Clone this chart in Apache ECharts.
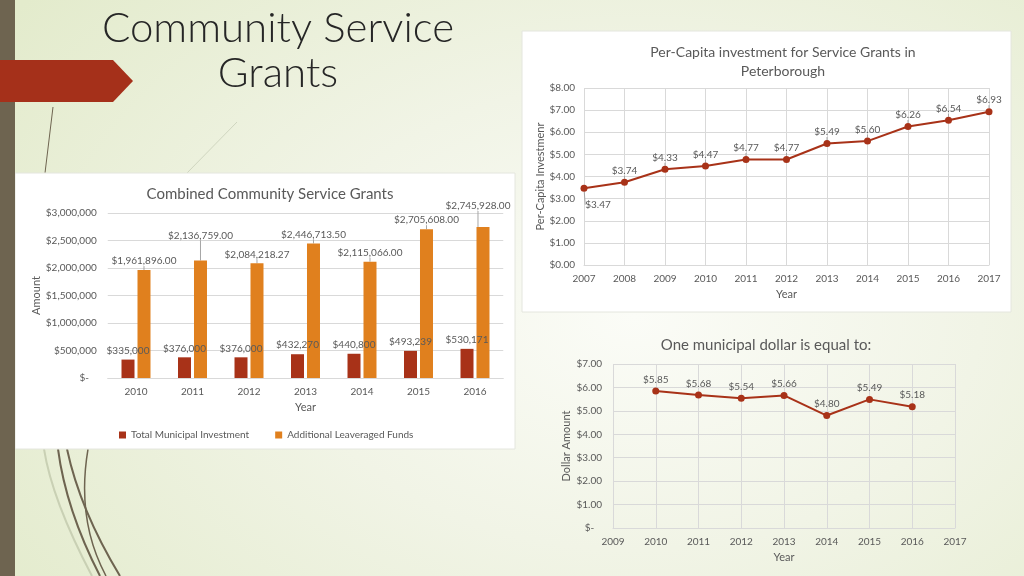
<!DOCTYPE html>
<html>
<head>
<meta charset="utf-8">
<script src="https://cdn.jsdelivr.net/npm/echarts@6/dist/echarts.min.js"></script>
<style>
  html, body { margin: 0; padding: 0; width: 1024px; height: 576px; overflow: hidden; }
  body {
    background: radial-gradient(ellipse 75% 90% at 62% 55%, #fbfcf7 0%, #f1f4e6 45%, #e3ebcc 100%);
  }
  #chart { width: 1024px; height: 576px; }
</style>
</head>
<body>
<div id="chart"></div>
<script>
// ---- Data ----
const slideTitle = ['Community Service', 'Grants'];

const barTitle = 'Combined Community Service Grants';
const barYears = ['2010', '2011', '2012', '2013', '2014', '2015', '2016'];
const municipalInvestment = [335000, 376000, 376000, 432270, 440800, 493239, 530171];
const leveragedFunds = [1961896.00, 2136759.00, 2084218.27, 2446713.50, 2115066.00, 2705608.00, 2745928.00];
const barSeriesNames = ['Total Municipal Investment', 'Additional Leaveraged Funds'];

const perCapitaTitle = 'Per-Capita investment for Service Grants in\nPeterborough';
const perCapitaYears = ['2007', '2008', '2009', '2010', '2011', '2012', '2013', '2014', '2015', '2016', '2017'];
const perCapitaValues = [3.47, 3.74, 4.33, 4.47, 4.77, 4.77, 5.49, 5.60, 6.26, 6.54, 6.93];

const dollarTitle = 'One municipal dollar is equal to:';
const dollarYears = ['2009', '2010', '2011', '2012', '2013', '2014', '2015', '2016', '2017'];
const dollarValues = [null, 5.85, 5.68, 5.54, 5.66, 4.80, 5.49, 5.18, null];

// ---- Styling ----
const FONT = 'Lato, "Open Sans", sans-serif';
const TXT = '#595959';
const GRID = '#d9d9d9';
const RED = '#a83218';
const ORANGE = '#e0801e';

const fmtInt = v => '$' + Math.round(v).toLocaleString('en-US');
const fmtDec = v => '$' + v.toLocaleString('en-US', { minimumFractionDigits: 2, maximumFractionDigits: 2 });
const fmtBarAxis = v => v === 0 ? '$-   ' : '$' + v.toLocaleString('en-US');
const fmtMoney2 = v => '$' + v.toFixed(2);
const fmtDollarAxis = v => v === 0 ? '$-   ' : '$' + v.toFixed(2);

const chart = echarts.init(document.getElementById('chart'));

const axisLabelStyle = { color: TXT, fontFamily: FONT, fontSize: 10 };
const nameStyle = { color: TXT, fontFamily: FONT, fontSize: 11 };

chart.setOption({
  backgroundColor: 'transparent',
  textStyle: { fontFamily: FONT },
  animation: false,
  graphic: [
    // white panels
    { type: 'rect', z: -10, shape: { x: 15, y: 173, width: 500, height: 276 },
      style: { fill: '#ffffff', stroke: '#e4e6de', lineWidth: 1 } },
    { type: 'rect', z: -10, shape: { x: 522, y: 31, width: 489, height: 281 },
      style: { fill: '#ffffff', stroke: '#e4e6de', lineWidth: 1 } },
    // decorative curves
    { type: 'line', z: -20, shape: { x1: 53, y1: 107, x2: 45, y2: 173 }, style: { stroke: '#6e6450', lineWidth: 1 } },
    { type: 'line', z: -20, shape: { x1: 237, y1: 122, x2: 187, y2: 173 }, style: { stroke: '#cfd5bf', lineWidth: 1 } },
    { type: 'bezierCurve', z: -20, shape: { x1: 44, y1: 449, cpx1: 52, cpy1: 500, x2: 92, y2: 576 }, style: { stroke: '#c9d0b4', lineWidth: 2, fill: null } },
    { type: 'bezierCurve', z: -20, shape: { x1: 58, y1: 449, cpx1: 66, cpy1: 510, x2: 100, y2: 576 }, style: { stroke: '#6e6450', lineWidth: 2, fill: null } },
    { type: 'bezierCurve', z: -20, shape: { x1: 67, y1: 449, cpx1: 80, cpy1: 510, x2: 120, y2: 576 }, style: { stroke: '#6e6450', lineWidth: 2, fill: null } },
    { type: 'bezierCurve', z: -20, shape: { x1: 88, y1: 449, cpx1: 76, cpy1: 520, x2: 106, y2: 576 }, style: { stroke: '#6e6450', lineWidth: 1.5, fill: null } },
    // left stripe
    { type: 'rect', z: -5, shape: { x: 0, y: 0, width: 15, height: 576 }, style: { fill: '#6e6450' } },
    // red arrow
    { type: 'polygon', z: -4, shape: { points: [[0, 60], [113, 60], [133, 81], [113, 102], [0, 102]] }, style: { fill: '#a5301a' } },
    // slide title
    { type: 'text', x: 278, y: 28, style: { text: slideTitle[0], fontFamily: FONT, fontSize: 42, fontWeight: 300, fill: '#262626', align: 'center', verticalAlign: 'middle' } },
    { type: 'text', x: 278, y: 73, style: { text: slideTitle[1], fontFamily: FONT, fontSize: 42, fontWeight: 300, fill: '#262626', align: 'center', verticalAlign: 'middle' } }
  ],
  title: [
    { text: barTitle, left: 265, top: 182, textAlign: 'center',
      textStyle: { color: TXT, fontFamily: FONT, fontSize: 15, fontWeight: 'normal' } },
    { text: perCapitaTitle, left: 778, top: 38, textAlign: 'center',
      textStyle: { color: TXT, fontFamily: FONT, fontSize: 14, fontWeight: 'normal', lineHeight: 19 } },
    { text: dollarTitle, left: 761, top: 333, textAlign: 'center',
      textStyle: { color: TXT, fontFamily: FONT, fontSize: 15, fontWeight: 'normal' } }
  ],
  legend: {
    left: 114, top: 425,
    data: barSeriesNames,
    itemWidth: 7, itemHeight: 7, itemGap: 26,
    icon: 'rect',
    textStyle: { color: TXT, fontFamily: FONT, fontSize: 10 }
  },
  grid: [
    { left: 107.75, right: 520.75, top: 213, bottom: 198, containLabel: false },
    { left: 584, right: 35, top: 88, bottom: 311, containLabel: false },
    { left: 613, right: 69, top: 364, bottom: 48, containLabel: false }
  ],
  xAxis: [
    { gridIndex: 0, type: 'category', data: barYears,
      axisLine: { lineStyle: { color: GRID } }, axisTick: { show: false },
      axisLabel: Object.assign({ margin: 9 }, axisLabelStyle),
      name: 'Year', nameLocation: 'middle', nameGap: 24, nameTextStyle: nameStyle },
    { gridIndex: 1, type: 'category', data: perCapitaYears, boundaryGap: false,
      axisLine: { lineStyle: { color: GRID } }, axisTick: { show: false },
      splitLine: { show: true, interval: 0, lineStyle: { color: GRID } },
      axisLabel: Object.assign({ margin: 9, interval: 0 }, axisLabelStyle),
      name: 'Year', nameLocation: 'middle', nameGap: 24, nameTextStyle: nameStyle },
    { gridIndex: 2, type: 'category', data: dollarYears, boundaryGap: false,
      axisLine: { lineStyle: { color: GRID } }, axisTick: { show: false },
      splitLine: { show: true, interval: 0, lineStyle: { color: GRID } },
      axisLabel: Object.assign({ margin: 9, interval: 0 }, axisLabelStyle),
      name: 'Year', nameLocation: 'middle', nameGap: 24, nameTextStyle: nameStyle }
  ],
  yAxis: [
    { gridIndex: 0, type: 'value', min: 0, max: 3000000, interval: 500000,
      axisLine: { show: false }, axisTick: { show: false },
      splitLine: { lineStyle: { color: GRID } },
      axisLabel: Object.assign({ margin: 11, formatter: fmtBarAxis }, axisLabelStyle),
      name: 'Amount', nameLocation: 'middle', nameGap: 66, nameTextStyle: nameStyle },
    { gridIndex: 1, type: 'value', min: 0, max: 8, interval: 1,
      axisLine: { show: false }, axisTick: { show: false },
      splitLine: { lineStyle: { color: GRID } },
      axisLabel: Object.assign({ margin: 9, formatter: fmtMoney2 }, axisLabelStyle),
      name: 'Per-Capita Investmenr', nameLocation: 'middle', nameGap: 37, nameTextStyle: nameStyle },
    { gridIndex: 2, type: 'value', min: 0, max: 7, interval: 1,
      axisLine: { show: false }, axisTick: { show: false },
      splitLine: { lineStyle: { color: GRID } },
      axisLabel: Object.assign({ margin: 11, formatter: fmtDollarAxis }, axisLabelStyle),
      name: 'Dollar Amount', nameLocation: 'middle', nameGap: 41, nameTextStyle: nameStyle }
  ],
  series: [
    { name: barSeriesNames[0], type: 'bar', xAxisIndex: 0, yAxisIndex: 0,
      data: municipalInvestment, barWidth: 13, barGap: '23%',
      itemStyle: { color: RED },
      label: { show: true, position: 'top', distance: 4, color: TXT, fontFamily: FONT, fontSize: 10,
        formatter: p => fmtInt(p.value) } },
    { name: barSeriesNames[1], type: 'bar', xAxisIndex: 0, yAxisIndex: 0,
      data: leveragedFunds, barWidth: 13,
      itemStyle: { color: ORANGE },
      label: { show: true, position: 'top', distance: 4, color: TXT, fontFamily: FONT, fontSize: 10,
        formatter: p => fmtDec(p.value) },
      labelLine: { show: true, lineStyle: { color: '#a6a6a6', width: 1 } },
      labelLayout: p => {
        if (p.dataIndex === 1) return { dy: -16 };
        if (p.dataIndex === 6) return { dx: -5, dy: -12 };
        return {};
      } },
    { name: 'Per-Capita', type: 'line', xAxisIndex: 1, yAxisIndex: 1,
      data: perCapitaValues, symbol: 'circle', symbolSize: 7,
      lineStyle: { color: RED, width: 2 }, itemStyle: { color: RED },
      label: { show: true, position: 'top', distance: 3, color: TXT, fontFamily: FONT, fontSize: 10,
        formatter: p => fmtMoney2(p.value) },
      labelLine: { show: true, lineStyle: { color: '#a6a6a6', width: 1 } },
      labelLayout: p => p.dataIndex === 0 ? { dx: 14, dy: 28 } : {} },
    { name: 'Municipal dollar', type: 'line', xAxisIndex: 2, yAxisIndex: 2,
      data: dollarValues, symbol: 'circle', symbolSize: 7,
      lineStyle: { color: RED, width: 2 }, itemStyle: { color: RED },
      label: { show: true, position: 'top', distance: 3, color: TXT, fontFamily: FONT, fontSize: 10,
        formatter: p => fmtMoney2(p.value) } }
  ]
});
</script>
</body>
</html>
